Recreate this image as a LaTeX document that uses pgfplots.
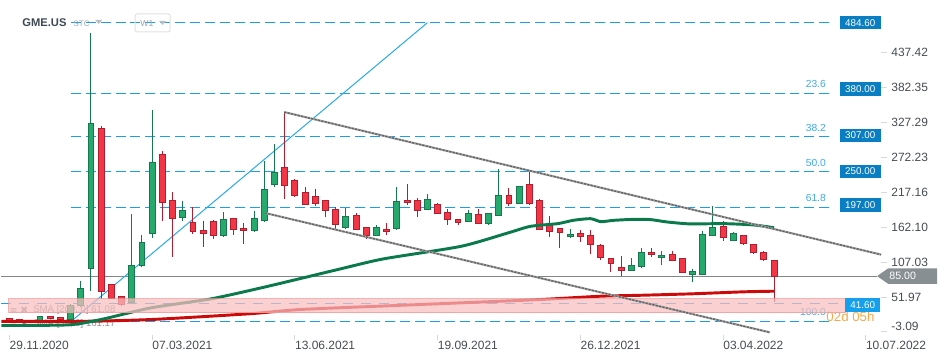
\documentclass[border=0pt]{standalone}
\usepackage{pgfplots}
\pgfplotsset{compat=1.18}
\usepackage{pgfplotstable}
\usepackage{fontspec}
\setmainfont{Liberation Sans}
\newfontfamily\symfont{DejaVu Sans}
\definecolor{bullfill}{RGB}{38,169,108}
\definecolor{bullline}{RGB}{22,120,76}
\definecolor{bearfill}{RGB}{242,54,69}
\definecolor{bearline}{RGB}{178,30,48}
\definecolor{fibblue}{RGB}{26,160,230}
\definecolor{fibtext}{RGB}{60,170,230}
\definecolor{boxblue}{RGB}{10,126,194}
\definecolor{boxlight}{RGB}{20,160,236}
\definecolor{smagreen}{RGB}{10,122,76}
\definecolor{smared}{RGB}{205,10,10}
\definecolor{pinkfill}{RGB}{248,190,190}
\definecolor{pinkline}{RGB}{240,150,150}
\definecolor{ticktext}{RGB}{70,76,82}
\definecolor{pricegray}{RGB}{135,143,147}
\definecolor{lvlgray}{RGB}{128,134,138}
\definecolor{diag}{RGB}{40,170,235}
\definecolor{hdr}{RGB}{61,72,82}
\definecolor{hdrlight}{RGB}{154,165,174}
\definecolor{orangec}{RGB}{248,168,70}
\definecolor{legtext}{RGB}{140,145,150}

\pgfplotstableread{
w o h l c
0 18.6 19.4 15.2 15.6
1 16.8 17.2 12.0 13.8
2 12.0 15.5 11.2 14.9
3 14.9 22.0 14.0 21.5
4 21.3 22.0 17.0 18.0
5 19.0 19.6 15.5 16.5
6 17.0 40.5 16.5 38.5
7 38.5 76.8 36.0 64.8
8 96.3 469.0 61.1 326.2
9 317.3 320.9 49.0 61.1
10 71.1 72.5 48.5 50.0
11 52.5 53.5 38.5 40.0
12 43.5 182.7 42.0 101.5
13 101.0 149.4 99.0 137.9
14 152.0 347.0 145.0 264.5
15 277.0 282.4 172.1 200.6
16 204.3 217.5 115.1 175.2
17 176.8 203.2 171.6 188.5
18 170.0 193.3 151.5 154.7
19 157.4 171.6 131.0 151.5
20 171.6 173.2 143.6 148.3
21 148.3 185.8 147.0 174.3
22 175.9 177.0 150.5 158.5
23 160.0 168.4 136.3 156.3
24 156.9 187.4 155.0 175.9
25 172.7 266.5 171.0 221.7
26 229.7 293.4 226.0 249.1
27 256.5 343.6 205.9 228.1
28 236.5 237.5 209.1 211.6
29 217.0 224.9 196.4 198.0
30 210.7 221.7 195.3 199.6
31 204.3 205.5 177.4 189.0
32 190.1 194.2 158.5 166.4
33 161.0 192.2 159.4 179.0
34 180.6 183.8 157.0 158.5
35 161.6 162.5 144.2 148.3
36 149.0 164.8 148.0 162.1
37 158.5 167.9 150.0 154.7
38 159.4 224.9 158.0 203.2
39 204.8 230.1 197.4 201.2
40 204.8 207.5 177.4 188.5
41 190.1 214.3 189.0 206.0
42 198.0 200.1 183.0 183.8
43 185.3 191.1 165.8 174.3
44 174.3 175.0 164.8 169.5
45 171.1 189.0 170.0 183.8
46 182.2 190.6 167.0 167.9
47 167.3 184.5 165.8 183.8
48 180.6 253.9 180.0 212.3
49 212.3 223.3 195.3 199.6
50 199.6 227.0 199.0 226.5
51 229.7 251.3 196.9 199.0
52 204.8 206.4 158.0 158.5
53 165.3 179.5 146.8 155.3
54 160.0 161.0 129.4 153.1
55 147.4 158.9 145.2 151.0
56 152.1 157.4 138.9 147.4
57 149.0 157.4 119.4 134.7
58 133.1 135.2 111.0 114.2
59 112.6 113.0 91.4 104.7
60 98.3 116.2 84.6 93.6
61 94.5 114.2 92.9 101.5
62 99.9 129.9 97.7 122.0
63 122.0 130.0 115.1 118.3
64 114.2 124.1 102.4 117.3
65 118.9 124.1 109.0 109.4
66 112.6 113.0 90.0 90.4
67 87.3 96.1 75.6 92.0
68 87.3 155.8 87.0 150.5
69 149.0 194.9 148.5 161.6
70 163.2 171.6 141.0 145.8
71 141.0 154.2 139.5 152.1
72 149.0 150.5 134.1 136.3
73 134.7 136.3 120.4 122.0
74 122.0 124.6 108.8 111.0
75 109.4 110.0 43.9 85.0
}\candles

\pgfplotstableread{
w v
-0.78 13.5
5 13.5
9 14.0
14 16.5
19 21.0
24 26.0
28.6 32.3
38 38.6
45 43.2
52.1 48.0
58 53.2
62 54.7
67 57.0
72 60.1
75 61.08
}\smaTwoHundred

\pgfplotstableread{
w v
-0.78 7.0
5.8 8.0
9 16.5
13.9 34.9
19.8 49.1
24.7 66.4
28.6 81.3
32.5 96.4
36.7 112.1
44.3 131.9
48.9 153.0
51.1 163.4
53.8 167.7
55.3 172.9
57 175.5
58 170.8
59.3 172.9
61.2 174.4
62.9 174.0
64.5 170.3
66.8 167.2
70 167.7
73 165.6
75 161.17
}\smaFifty

\pgfplotsset{
  bullwick/.style={draw=bullline, line width=0.75pt},
  bearwick/.style={draw=bearline, line width=0.75pt},
  bullbody/.style={draw=bullline, fill=bullfill, line width=0.7pt},
  bearbody/.style={draw=bearline, fill=bearfill, line width=0.7pt},
}

\begin{document}
\begin{tikzpicture}
\begin{axis}[
  at={(0pt,0pt)}, anchor=south west,
  scale only axis, width=660.75pt, height=251.25pt,
  xmin=-0.784, xmax=85.5, ymin=-7.2, ymax=520.4,
  clip=false,
  axis line style={draw=none},
  tick align=outside, major tick length=4.5pt,
  tick style={draw=black!15, line width=0.6pt},
  xtick pos=bottom, ytick pos=right, yticklabel pos=right,
  xtick={0,14,28,42,56,70,84},
  xticklabels={29.11.2020,07.03.2021,13.06.2021,19.09.2021,26.12.2021,03.04.2022,10.07.2022},
  xticklabel style={anchor=north west, inner sep=0pt, font=\fontsize{9}{10}\selectfont, text=ticktext},
  ytick={51.97,107.03,162.10,217.16,272.23,327.29,382.35,437.42},
  yticklabels={51.97,107.03,162.10,217.16,272.23,327.29,382.35,437.42},
  yticklabel style={anchor=west, inner sep=0pt, xshift=3pt, font=\fontsize{9}{10}\selectfont, text=ticktext},
  extra y ticks={-3.09},
  extra y tick labels={-3.09},
  extra y tick style={yticklabel style={yshift=4.3pt}},
]

% Fibonacci levels
\addplot[fibblue, line width=0.75pt, dash pattern=on 7.5pt off 3.75pt] coordinates {(6.0,484.6) (80.6,484.6)};
\addplot[fibblue, line width=0.75pt, dash pattern=on 7.5pt off 3.75pt] coordinates {(6.0,373.5) (80.6,373.5)};
\addplot[fibblue, line width=0.75pt, dash pattern=on 7.5pt off 3.75pt] coordinates {(6.0,304.8) (80.6,304.8)};
\addplot[fibblue, line width=0.75pt, dash pattern=on 7.5pt off 3.75pt] coordinates {(6.0,249.2) (80.6,249.2)};
\addplot[fibblue, line width=0.75pt, dash pattern=on 7.5pt off 3.75pt] coordinates {(6.0,193.6) (80.6,193.6)};
\addplot[fibblue, line width=0.75pt, dash pattern=on 7.5pt off 3.75pt] coordinates {(6.0,13.8) (80.6,13.8)};
% 41.6 level
\addplot[fibblue, line width=0.75pt, dash pattern=on 7.5pt off 6pt] coordinates {(-0.78,41.6) (82.0,41.6)};
% 85 level
\addplot[lvlgray, line width=0.75pt] coordinates {(-0.78,85) (85.1,85)};

\begin{scope}[every node/.style={anchor=south east, inner sep=0pt, font=\fontsize{7.7}{8}\selectfont, text=fibtext}]
\node[yshift=3.7pt] at (axis cs:80.1,373.5) {23.6};
\node[yshift=3.7pt] at (axis cs:80.1,304.8) {38.2};
\node[yshift=3.7pt] at (axis cs:80.1,249.2) {50.0};
\node[yshift=3.7pt] at (axis cs:80.1,193.6) {61.8};
\node[yshift=3.7pt] at (axis cs:80.1,13.8) {100.0};
\end{scope}
\node[inner sep=0pt, font=\fontsize{10}{11}\selectfont, text=orangec] at (axis cs:82.5,20.2) {02d 05h};

% diagonal fib trend line
\addplot[diag, line width=0.75pt] coordinates {(6.07,13.8) (41.0,484.6)};

% SMA legend (behind candles)
\node[anchor=west, inner sep=0pt, text=legtext, font=\symfont\fontsize{7}{8}\selectfont] at (axis cs:0.0,31.1) {≡ ✖};
\node[anchor=west, inner sep=0pt, text=legtext, font=\fontsize{7.2}{8}\selectfont] at (axis cs:2.32,31.1) {SMA [200, 0] 61.08};
\node[anchor=west, inner sep=0pt, text=legtext, font=\symfont\fontsize{7}{8}\selectfont] at (axis cs:0.0,8.6) {≡ ✖};
\node[anchor=west, inner sep=0pt, text=legtext, font=\fontsize{7.2}{8}\selectfont] at (axis cs:2.32,8.6) {SMA [50, 0] 161.17};

% candles
\pgfplotstablegetrowsof{\candles}
\pgfmathtruncatemacro{\lastrow}{\pgfplotsretval-1}
\pgfplotsforeachungrouped \i in {0,...,\lastrow}{%
  \pgfplotstablegetelem{\i}{w}\of\candles \let\cw\pgfplotsretval
  \pgfplotstablegetelem{\i}{o}\of\candles \let\co\pgfplotsretval
  \pgfplotstablegetelem{\i}{h}\of\candles \let\ch\pgfplotsretval
  \pgfplotstablegetelem{\i}{l}\of\candles \let\cl\pgfplotsretval
  \pgfplotstablegetelem{\i}{c}\of\candles \let\cc\pgfplotsretval
  \pgfmathsetmacro{\xa}{\cw-0.29}%
  \pgfmathsetmacro{\xb}{\cw+0.29}%
  \ifdim\cc pt<\co pt \def\cstyle{bear}\else\def\cstyle{bull}\fi
  \edef\temp{%
    \noexpand\addplot[\cstyle wick] coordinates {(\cw,\cl) (\cw,\ch)};
    \noexpand\addplot[\cstyle body] coordinates {(\xa,\co) (\xb,\co) (\xb,\cc) (\xa,\cc)} -- cycle;
  }\temp
}

% SMAs
\addplot[smared, line width=2.2pt, smooth, tension=0.4] table[x=w, y=v] {\smaTwoHundred};
\addplot[smagreen, line width=2.2pt, smooth, tension=0.4] table[x=w, y=v] {\smaFifty};

% pink zone
\addplot[fill=pinkfill, draw=pinkline, line width=0.75pt, opacity=0.72] coordinates {(-0.07,27.0) (82.0,27.0) (82.0,49.5) (-0.07,49.5)} -- cycle;

% channel lines
\addplot[draw=black!35, line width=1.6pt] coordinates {(26.96,343.6) (85.5,118.8)};
\addplot[draw=black!62, line width=1pt, dash pattern=on 1.6pt off 1pt] coordinates {(26.96,343.6) (85.5,118.8)};
\addplot[draw=black!35, line width=1.6pt] coordinates {(25.07,184.5) (74.6,-3.9)};
\addplot[draw=black!62, line width=1pt, dash pattern=on 1.6pt off 1pt] coordinates {(25.07,184.5) (74.6,-3.9)};

% price boxes
\begin{scope}[every node/.style={fill=boxblue, text=white, minimum width=31pt, minimum height=10pt, inner sep=0pt, font=\fontsize{7.4}{8}\selectfont}]
\node at (axis cs:83.45,484.6) {484.60};
\node at (axis cs:83.45,380.0) {380.00};
\node at (axis cs:83.45,307.0) {307.00};
\node at (axis cs:83.45,250.0) {250.00};
\node at (axis cs:83.45,197.0) {197.00};
\end{scope}
\node[fill=boxlight, text=white, minimum width=26.25pt, minimum height=10pt, inner sep=0pt, font=\fontsize{7.4}{8}\selectfont] at (axis cs:83.7,39.5) {41.60};
\end{axis}

\begin{scope}[x=0.75pt, y=-0.75pt, yshift=251.25pt]
  % header
  \node[anchor=west, inner sep=0pt, font=\bfseries\fontsize{8.4}{9}\selectfont, text=hdr] at (20.7,23) {GME.US};
  \node[anchor=west, inner sep=0pt, font=\fontsize{6}{7}\selectfont, text=hdrlight] at (72,24) {STC};
  \fill[hdrlight!70] (94,20) -- (101,20) -- (97.5,24) -- cycle;
  \draw[black!12, rounded corners=1.5pt, line width=0.75pt] (134,14) rectangle (169,32);
  \node[anchor=west, inner sep=0pt, font=\fontsize{6.5}{7}\selectfont, text=hdrlight] at (139,23.5) {W1};
  \fill[hdrlight!70] (158,21) -- (165,21) -- (161.5,25) -- cycle;
  % last price tag
  \fill[pricegray] (877,276.5) -- (888,268.8) -- (937,268.8) -- (937,284.2) -- (888,284.2) -- cycle;
  \node[anchor=west, inner sep=0pt, text=white, font=\fontsize{8}{9}\selectfont] at (889,276.7) {85.00};
  \path[use as bounding box] (0,0) rectangle (949,358);
\end{scope}
\end{tikzpicture}
\end{document}
